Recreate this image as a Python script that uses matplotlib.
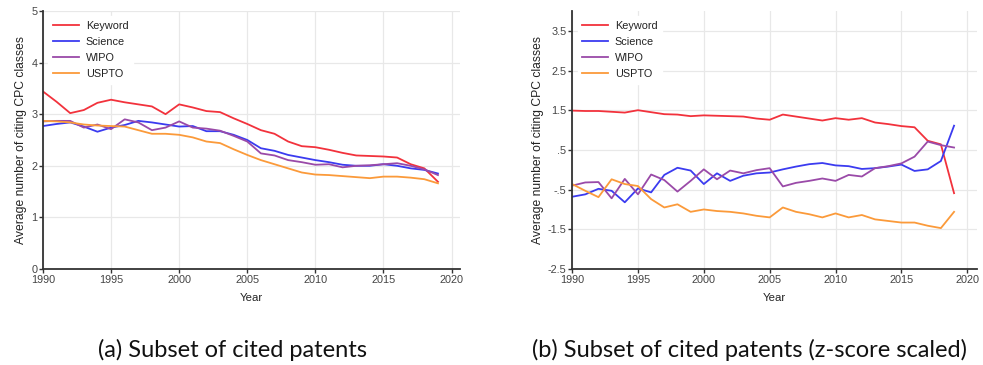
import matplotlib.pyplot as plt
from matplotlib.ticker import FuncFormatter

years = list(range(1990, 2020))
series_names = ['Keyword', 'Science', 'WIPO', 'USPTO']
colors = ['#f2323c', '#3b3bf0', '#9a4aa8', '#fb9a3a']

# average number of citing CPC classes
keyword_avg = [3.44, 3.24, 3.02, 3.08, 3.22, 3.28, 3.23, 3.19, 3.15, 3.00,
               3.19, 3.13, 3.06, 3.04, 2.92, 2.81, 2.69, 2.62, 2.47, 2.38,
               2.36, 2.31, 2.25, 2.20, 2.19, 2.18, 2.16, 2.03, 1.95, 1.69]
science_avg = [2.77, 2.81, 2.84, 2.76, 2.66, 2.74, 2.79, 2.87, 2.84, 2.80,
               2.76, 2.77, 2.67, 2.67, 2.60, 2.50, 2.34, 2.29, 2.21, 2.16,
               2.11, 2.07, 2.02, 2.00, 2.00, 2.03, 2.00, 1.95, 1.92, 1.85]
wipo_avg = [2.86, 2.87, 2.87, 2.74, 2.80, 2.71, 2.90, 2.84, 2.69, 2.74,
            2.86, 2.74, 2.72, 2.68, 2.58, 2.47, 2.24, 2.20, 2.11, 2.07,
            2.02, 2.03, 1.97, 2.00, 2.01, 2.03, 2.05, 2.00, 1.93, 1.82]
uspto_avg = [2.87, 2.86, 2.84, 2.80, 2.78, 2.77, 2.76, 2.69, 2.62, 2.62,
             2.60, 2.55, 2.47, 2.44, 2.32, 2.21, 2.11, 2.03, 1.95, 1.87,
             1.83, 1.82, 1.80, 1.78, 1.76, 1.79, 1.79, 1.77, 1.74, 1.66]

# z-score scaled version
keyword_z = [1.49, 1.48, 1.48, 1.46, 1.44, 1.50, 1.45, 1.40, 1.39, 1.35,
             1.37, 1.36, 1.35, 1.34, 1.29, 1.26, 1.39, 1.34, 1.29, 1.24,
             1.30, 1.26, 1.30, 1.19, 1.15, 1.10, 1.07, 0.73, 0.64, -0.59]
science_z = [-0.68, -0.62, -0.48, -0.53, -0.82, -0.47, -0.57, -0.13, 0.05, -0.02,
             -0.36, -0.09, -0.28, -0.15, -0.09, -0.07, 0.01, 0.08, 0.14, 0.17,
             0.11, 0.09, 0.02, 0.04, 0.08, 0.13, -0.03, 0.01, 0.22, 1.11]
wipo_z = [-0.40, -0.32, -0.31, -0.72, -0.23, -0.62, -0.12, -0.26, -0.55, -0.28,
          0.01, -0.24, -0.02, -0.09, -0.01, 0.04, -0.42, -0.33, -0.28, -0.22,
          -0.28, -0.13, -0.17, 0.04, 0.09, 0.16, 0.33, 0.71, 0.62, 0.56]
uspto_z = [-0.36, -0.53, -0.69, -0.24, -0.36, -0.41, -0.74, -0.95, -0.87, -1.06,
           -1.00, -1.04, -1.06, -1.10, -1.16, -1.20, -0.95, -1.06, -1.12, -1.20,
           -1.10, -1.20, -1.14, -1.25, -1.29, -1.33, -1.33, -1.41, -1.47, -1.06]

x_ticks = [1990, 1995, 2000, 2005, 2010, 2015, 2020]
left_yticks = [0, 1, 2, 3, 4, 5]
right_yticks = [-2.5, -1.5, -0.5, 0.5, 1.5, 2.5, 3.5]

plt.rcParams['font.family'] = ['Liberation Sans', 'DejaVu Sans']

fig = plt.figure(figsize=(9.83, 3.65), dpi=100)
ax1 = fig.add_axes([0.0437, 0.263, 0.424, 0.707])
ax2 = fig.add_axes([0.582, 0.263, 0.412, 0.707])


def style_axis(ax, yticks, ylim, xmax):
    ax.set_xlim(1990, xmax)
    ax.set_ylim(*ylim)
    ax.set_xticks(x_ticks)
    ax.set_yticks(yticks)
    ax.grid(True, color='#e8e8e8', linewidth=0.9)
    ax.set_axisbelow(True)
    for side in ['top', 'right']:
        ax.spines[side].set_visible(False)
    for side in ['left', 'bottom']:
        ax.spines[side].set_color('#333333')
        ax.spines[side].set_linewidth(1.3)
    ax.tick_params(axis='both', direction='out', length=3, width=1,
                   color='#333333', labelsize=7.8, labelcolor='#444444', pad=1)
    ax.set_xlabel('Year', fontsize=8.2, color='#222222', labelpad=6)
    ax.set_ylabel('Average number of citing CPC classes', fontsize=8.7,
                  color='#222222', labelpad=3)


for vals, name, c in zip([keyword_avg, science_avg, wipo_avg, uspto_avg], series_names, colors):
    ax1.plot(years, vals, color=c, linewidth=1.3, label=name)
for vals, name, c in zip([keyword_z, science_z, wipo_z, uspto_z], series_names, colors):
    ax2.plot(years, vals, color=c, linewidth=1.3, label=name)

style_axis(ax1, left_yticks, (0, 5), 2020.6)
style_axis(ax2, right_yticks, (-2.5, 4.0), 2020.75)
ax2.yaxis.set_major_formatter(FuncFormatter(
    lambda v, p: ('%g' % v).replace('0.', '.')))

for ax in (ax1, ax2):
    leg = ax.legend(loc='upper left', frameon=True, fontsize=7.8,
                    handlelength=2.4, handletextpad=0.6, labelspacing=0.55,
                    borderaxespad=0.5, borderpad=0.45, fancybox=False)
    leg.get_frame().set_facecolor('white')
    leg.get_frame().set_edgecolor('white')
    leg.get_frame().set_alpha(1)
    for t in leg.get_texts():
        t.set_color('#222222')

fig.text(0.237, 0.04, '(a) Subset of cited patents', ha='center', va='center',
         fontsize=17, family='Lato', color='#111111')
fig.text(0.762, 0.04, '(b) Subset of cited patents (z-score scaled)', ha='center',
         va='center', fontsize=17, family='Lato', color='#111111')

fig.savefig('out.png', dpi=100)
